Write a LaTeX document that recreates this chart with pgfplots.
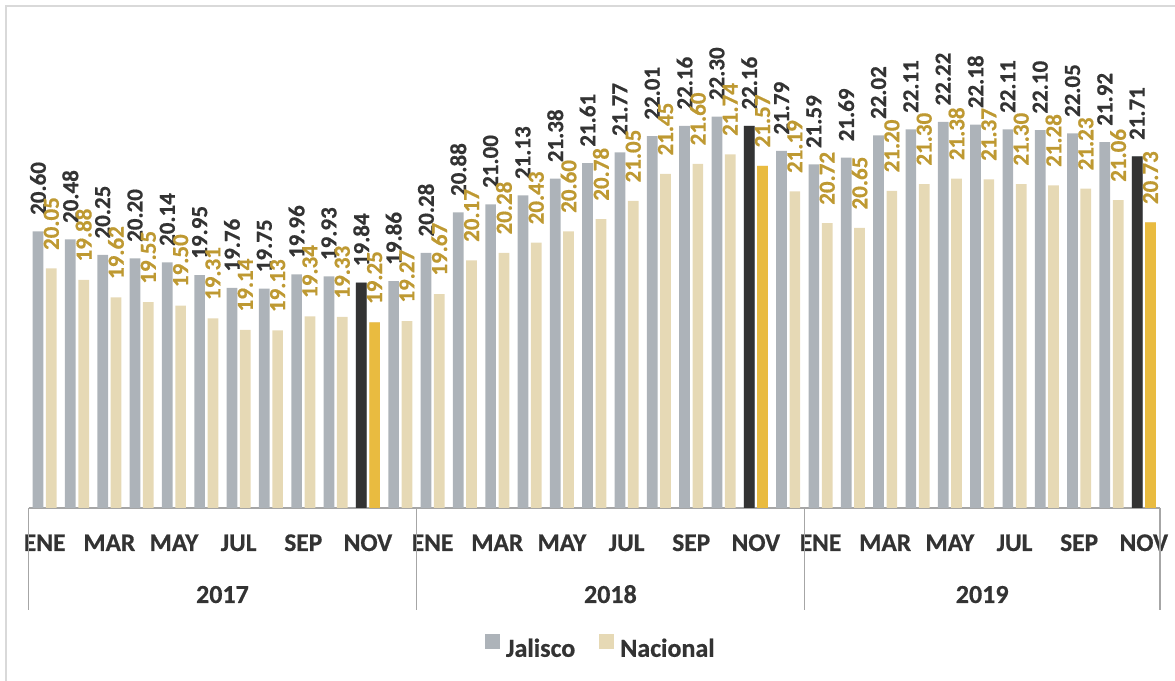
\documentclass[border=0pt]{standalone}
\usepackage{pgfplots}
\usepackage{pgfplotstable}
\pgfplotsset{compat=1.18}
\usepackage{fontspec}
\setmainfont{Carlito}
\newfontfamily\hv[FakeBold=0.6]{Carlito Bold}
\definecolor{jgray}{RGB}{173,179,185}
\definecolor{nbeige}{RGB}{230,217,181}
\definecolor{jdark}{RGB}{51,51,51}
\definecolor{ngold}{RGB}{233,187,64}
\definecolor{lgold}{RGB}{190,153,50}
\definecolor{ltext}{RGB}{51,51,51}
\definecolor{sepcol}{RGB}{166,166,166}
\definecolor{bordercol}{RGB}{217,217,217}
\pgfplotstableread{
x y
0 20.60
1 20.48
2 20.25
3 20.20
4 20.14
5 19.95
6 19.76
7 19.75
8 19.96
9 19.93
10 19.84
11 19.86
12 20.28
13 20.88
14 21.00
15 21.13
16 21.38
17 21.61
18 21.77
19 22.01
20 22.16
21 22.30
22 22.16
23 21.79
24 21.59
25 21.69
26 22.02
27 22.11
28 22.22
29 22.18
30 22.11
31 22.10
32 22.05
33 21.92
34 21.71
}\jal
\pgfplotstableread{
x y
0 20.05
1 19.88
2 19.62
3 19.55
4 19.50
5 19.31
6 19.14
7 19.13
8 19.34
9 19.33
10 19.25
11 19.27
12 19.67
13 20.17
14 20.28
15 20.43
16 20.60
17 20.78
18 21.05
19 21.45
20 21.60
21 21.74
22 21.57
23 21.19
24 20.72
25 20.65
26 21.20
27 21.30
28 21.38
29 21.37
30 21.30
31 21.28
32 21.23
33 21.06
34 20.73
}\nac
\pgfplotstableread{
x y
10 19.84
22 22.16
34 21.71
}\jalnov
\pgfplotstableread{
x y
10 19.25
22 21.57
34 20.73
}\nacnov
\begin{document}
\begin{tikzpicture}
\path[use as bounding box] (0,0) rectangle (587.5pt,340.5pt);
\draw[bordercol, line width=0.8pt] (3pt,0) -- (3pt,337.5pt) -- (590pt,337.5pt);
\begin{axis}[
  at={(14.25pt,86.5pt)}, anchor=south west,
  scale only axis, width=565.75pt, height=243pt,
  xmin=-0.5, xmax=34.5, ymin=16.5, ymax=23.7,
  enlargelimits=false,
  axis x line*=bottom, axis y line=none,
  axis line style={draw=sepcol, line width=0.7pt},
  ytick=\empty,
  xtick={0,2,...,34},
  xticklabels={ENE,MAR,MAY,JUL,SEP,NOV,ENE,MAR,MAY,JUL,SEP,NOV,ENE,MAR,MAY,JUL,SEP,NOV},
  major tick length=0pt,
  xticklabel style={font=\fontsize{12.7}{13}\selectfont\hv, text=ltext, anchor=base, yshift=-21.5pt, inner sep=0pt},
  legend style={at={(axis description cs:0.4034,-0.286)}, anchor=west, draw=none, fill=none, inner sep=0pt, outer sep=0pt,
    font=\fontsize{13}{14}\selectfont\hv, text=ltext, legend columns=2,
    nodes={inner xsep=3pt, inner ysep=0pt},
    /tikz/every even column/.append style={column sep=9pt}},
  legend image code/.code={\fill[#1,draw=none] (0pt,0pt) rectangle (7.5pt,7.5pt);},
  lbl/.style={only marks, mark=none, forget plot, point meta=explicit,
    nodes near coords={\pgfmathprintnumber[fixed,fixed zerofill,precision=2,assume math mode=true]{\pgfplotspointmeta}},
    every node near coord/.append style={rotate=90, anchor=west, inner sep=0pt, font=\fontsize{11.5}{12}\selectfont\hv}},
]
\addplot[ybar, bar width=5.35pt, fill=jgray, draw=none, bar shift=-3.33pt] table[x=x,y=y] {\jal};
\addlegendentry{Jalisco}
\addplot[ybar, bar width=5.35pt, fill=nbeige, draw=none, bar shift=3.33pt] table[x=x,y=y] {\nac};
\addlegendentry{Nacional}
\addplot[ybar, bar width=5.35pt, fill=jdark, draw=none, bar shift=-3.33pt, forget plot] table[x=x,y=y] {\jalnov};
\addplot[ybar, bar width=5.35pt, fill=ngold, draw=none, bar shift=3.33pt, forget plot] table[x=x,y=y] {\nacnov};
\addplot[lbl, every node near coord/.append style={text=ltext}] table[x expr=\thisrow{x}-0.206, y expr=\thisrow{y}+0.237, meta=y] {\jal};
\addplot[lbl, every node near coord/.append style={text=lgold}] table[x expr=\thisrow{x}+0.206, y expr=\thisrow{y}+0.267, meta=y] {\nac};
\coordinate (s0) at (axis cs:-0.5,16.5);
\coordinate (s1) at (axis cs:11.5,16.5);
\coordinate (s2) at (axis cs:23.5,16.5);
\coordinate (s3) at (axis cs:34.5,16.5);
\coordinate (y0) at (axis cs:5.5,16.5);
\coordinate (y1) at (axis cs:17.5,16.5);
\coordinate (y2) at (axis cs:29,16.5);
\end{axis}
\foreach \s in {s0,s1,s2,s3} {\draw[sepcol, line width=0.7pt] (\s) -- ++(0,-51pt);}
\foreach \c/\t in {y0/2017,y1/2018,y2/2019} {\node[anchor=base, inner sep=0pt, font=\fontsize{13}{14}\selectfont\hv, text=ltext] at ([yshift=-47.5pt]\c) {\t};}
\end{tikzpicture}
\end{document}
